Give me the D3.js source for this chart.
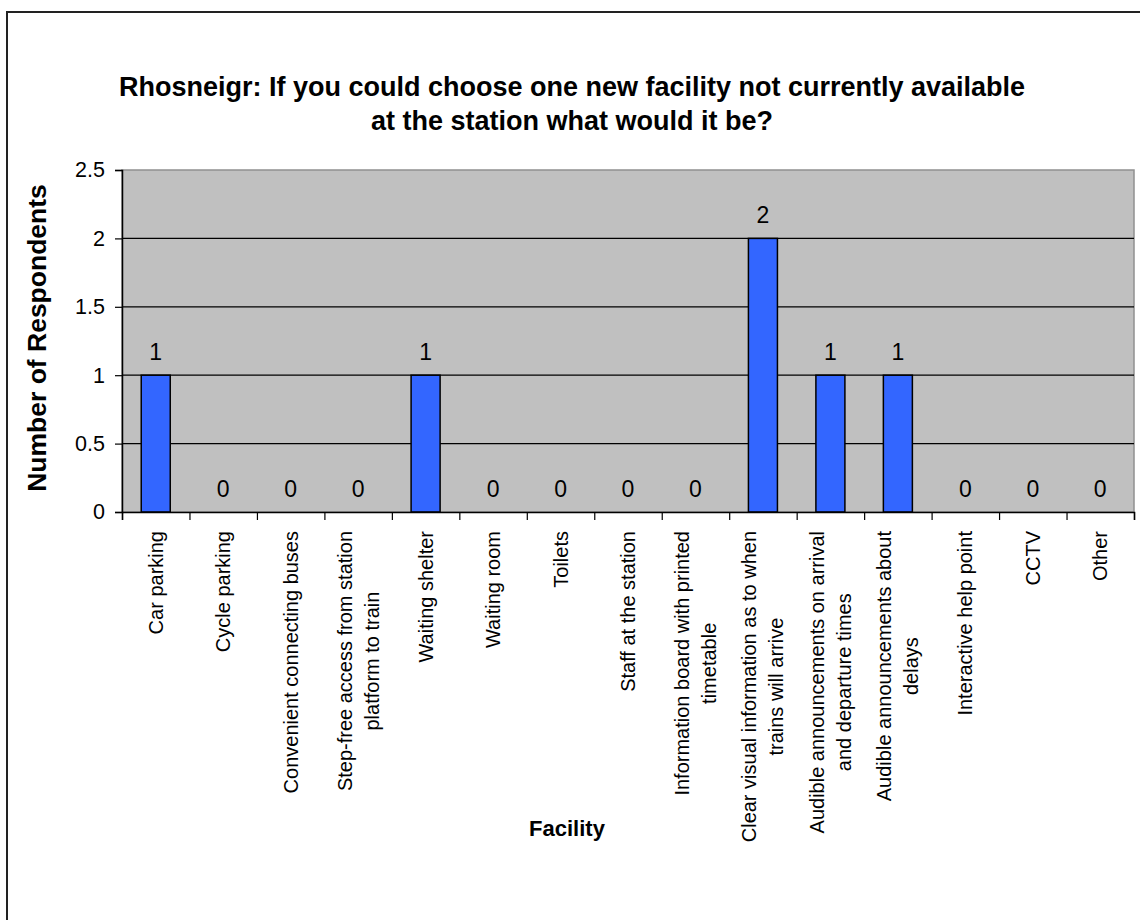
<!DOCTYPE html>
<html><head><meta charset="utf-8">
<script src="https://cdn.jsdelivr.net/npm/d3@7"></script>
<style>body{margin:0;background:#fff}svg{display:block}text{font-family:"Liberation Sans",Arial,sans-serif}</style>
</head><body>
<svg id="c" width="1140" height="920"></svg>
<script>
const categories = [
  ["Car parking"],
  ["Cycle parking"],
  ["Convenient connecting buses"],
  ["Step-free access from station","platform to train"],
  ["Waiting shelter"],
  ["Waiting room"],
  ["Toilets"],
  ["Staff at the station"],
  ["Information board with printed","timetable"],
  ["Clear visual information as to when","trains will arrive"],
  ["Audible announcements on arrival","and departure times"],
  ["Audible announcements about","delays"],
  ["Interactive help point"],
  ["CCTV"],
  ["Other"]
];
const values = [1,0,0,0,1,0,0,0,0,2,1,1,0,0,0];
const yTicks = [0,0.5,1,1.5,2,2.5];
const titleLines = ["Rhosneigr: If you could choose one new facility not currently available","at the station what would it be?"];

const svg = d3.select("#c");
const L=122, R=1134, T=170, B=512;
const keys = categories.map((d,i)=>i);
const x = d3.scaleBand().domain(keys).range([L,R]).paddingInner(0).paddingOuter(0);
const y = d3.scaleLinear().domain([0,2.5]).range([B,T]);

svg.append("rect").attr("x",7).attr("y",12).attr("width",1140).attr("height",920)
  .attr("fill","#fff").attr("stroke","#222").attr("stroke-width",2);

// plot bg
svg.append("rect").attr("x",L).attr("y",T).attr("width",R-L).attr("height",B-T)
  .attr("fill","#c0c0c0").attr("stroke","#909090").attr("stroke-width",1.5);

// gridlines
svg.append("g").selectAll("line").data(yTicks.filter(v=>v>0&&v<2.5)).join("line")
  .attr("x1",L).attr("x2",R).attr("y1",d=>y(d)).attr("y2",d=>y(d))
  .attr("stroke","#000").attr("stroke-width",1.2);

// bars
const bw = x.bandwidth()*0.43;
svg.append("g").selectAll("rect").data(values).join("rect")
  .attr("x",(d,i)=>x(i)+x.bandwidth()/2-bw/2)
  .attr("width",bw)
  .attr("y",d=>y(d)).attr("height",d=>B-y(d))
  .attr("fill","#3366ff").attr("stroke","#000").attr("stroke-width",1.5);

// data labels
svg.append("g").selectAll("text").data(values).join("text")
  .attr("x",(d,i)=>x(i)+x.bandwidth()/2)
  .attr("y",d=>y(d)-15)
  .attr("text-anchor","middle").attr("font-size",23).attr("fill","#000")
  .text(d=>d);

// y axis
const yAxis = d3.axisLeft(y).tickValues(yTicks).tickSize(7).tickPadding(10).tickFormat(d3.format("~g"));
const gy = svg.append("g").attr("transform",`translate(${L},0)`).call(yAxis);
gy.select(".domain").attr("stroke","#000").attr("stroke-width",1.5);
gy.selectAll(".tick line").attr("stroke","#000").attr("stroke-width",1.2);
gy.selectAll(".tick text").attr("font-size",21.5).attr("fill","#000").attr("font-family","Liberation Sans, Arial, sans-serif");

// x axis line and ticks at boundaries
const xb = d3.scaleLinear().domain([0,categories.length]).range([L,R]);
const xAxis = d3.axisBottom(xb).tickValues(d3.range(categories.length+1)).tickSize(8).tickFormat("");
const gx = svg.append("g").attr("transform",`translate(0,${B})`).call(xAxis);
gx.select(".domain").attr("stroke","#000").attr("stroke-width",1.5);
gx.selectAll(".tick line").attr("stroke","#000").attr("stroke-width",1.2);

// category labels
const lineGap = 27;
const top0 = 531;
categories.forEach((lines,i)=>{
  const cx = x(i)+x.bandwidth()/2;
  const g = svg.append("g");
  const n = lines.length;
  const ts = lines.map((ln,j)=>g.append("text").attr("font-size",20).attr("fill","#000")
     .attr("text-anchor","middle").text(ln));
  const maxW = d3.max(ts.map(t=>t.node().getComputedTextLength()));
  ts.forEach((t,j)=>{
    const lx = cx + (j-(n-1)/2)*lineGap + 7;
    const ly = top0 + maxW/2;
    t.attr("transform",`translate(${lx},${ly}) rotate(-90)`);
  });
});

// titles
svg.append("g").selectAll("text").data(titleLines).join("text")
  .attr("x",572).attr("y",(d,i)=>96+i*34)
  .attr("text-anchor","middle").attr("font-size",27).attr("font-weight","bold").attr("fill","#000")
  .text(d=>d);

svg.append("text").attr("transform",`translate(46,338) rotate(-90)`)
  .attr("text-anchor","middle").attr("font-size",26.5).attr("font-weight","bold").text("Number of Respondents");

svg.append("text").attr("x",567).attr("y",836)
  .attr("text-anchor","middle").attr("font-size",22).attr("font-weight","bold").text("Facility");
</script>
</body></html>
